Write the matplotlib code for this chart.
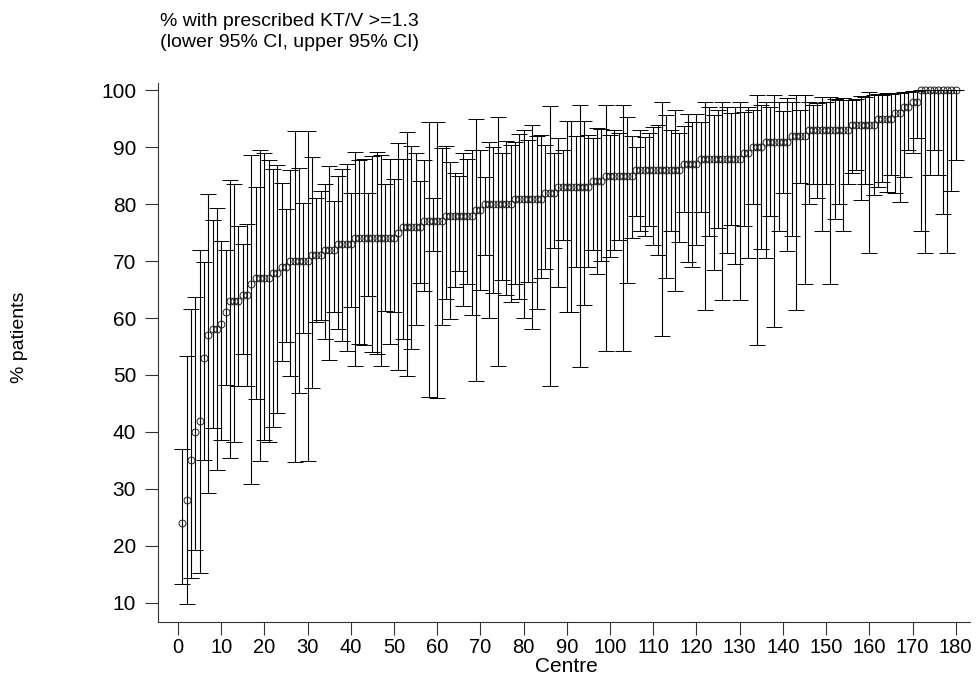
import numpy as np
import matplotlib
matplotlib.use("Agg")
import matplotlib.pyplot as plt

plt.rcParams['font.family'] = ['Liberation Sans', 'DejaVu Sans']

# centre number (x), % with prescribed KT/V >= 1.3 and its 95% CI
centre = list(range(1, 181))

pct = [
    24, 28, 35, 40, 42, 53, 57, 58, 58, 59,
    61, 63, 63, 63, 64, 64, 66, 67, 67, 67,
    67, 68, 68, 69, 69, 70, 70, 70, 70, 70,
    71, 71, 71, 72, 72, 72, 73, 73, 73, 73,
    74, 74, 74, 74, 74, 74, 74, 74, 74, 74,
    75, 76, 76, 76, 76, 76, 77, 77, 77, 77,
    77, 78, 78, 78, 78, 78, 78, 78, 79, 79,
    80, 80, 80, 80, 80, 80, 80, 81, 81, 81,
    81, 81, 81, 81, 82, 82, 82, 83, 83, 83,
    83, 83, 83, 83, 83, 84, 84, 84, 85, 85,
    85, 85, 85, 85, 85, 86, 86, 86, 86, 86,
    86, 86, 86, 86, 86, 86, 87, 87, 87, 87,
    88, 88, 88, 88, 88, 88, 88, 88, 88, 88,
    89, 89, 90, 90, 90, 91, 91, 91, 91, 91,
    91, 92, 92, 92, 92, 93, 93, 93, 93, 93,
    93, 93, 93, 93, 93, 94, 94, 94, 94, 94,
    94, 95, 95, 95, 95, 96, 96, 97, 97, 98,
    98, 100, 100, 100, 100, 100, 100, 100, 100, 100,
]

lower = [
    13.3, 9.8, 14.3, 19.2, 15.2, 35.0, 29.3, 40.7, 33.3, 38.6,
    48.3, 35.4, 38.3, 48.1, 53.6, 48.0, 30.9, 45.7, 34.8, 38.5,
    38.3, 40.9, 43.3, 52.5, 55.8, 49.9, 34.7, 46.9, 57.3, 34.8,
    47.8, 59.3, 59.6, 56.4, 52.6, 61.1, 58.0, 56.0, 54.3, 62.0,
    51.5, 55.4, 55.2, 63.8, 54.0, 53.6, 51.5, 61.2, 55.4, 61.0,
    50.8, 56.3, 49.9, 54.6, 58.7, 66.1, 64.7, 46.1, 71.7, 46.0,
    58.7, 63.4, 59.9, 65.5, 68.2, 62.2, 66.0, 60.6, 49.0, 64.9,
    71.1, 60.0, 64.4, 51.6, 66.7, 64.0, 62.8, 66.0, 63.4, 60.0,
    66.4, 58.0, 61.6, 67.0, 68.7, 48.0, 72.3, 65.5, 73.8, 61.0,
    61.0, 69.0, 51.4, 62.3, 68.9, 71.9, 67.8, 70.0, 54.3, 70.8,
    72.0, 73.8, 54.3, 66.1, 74.0, 77.9, 75.3, 74.5, 76.2, 72.9,
    71.0, 56.9, 67.0, 75.3, 64.7, 73.4, 78.6, 69.9, 69.0, 72.9,
    78.6, 61.4, 74.5, 68.5, 75.9, 63.2, 71.4, 76.3, 69.5, 63.2,
    76.1, 70.5, 80.0, 55.2, 72.2, 70.5, 78.0, 58.4, 75.3, 82.0,
    71.7, 74.4, 61.4, 83.8, 66.0, 80.1, 83.6, 81.1, 75.3, 83.5,
    66.0, 77.4, 80.1, 75.3, 83.6, 85.4, 86.0, 80.8, 83.6, 71.4,
    81.6, 83.0, 83.9, 82.2, 85.1, 82.0, 80.4, 84.7, 89.5, 89.0,
    91.7, 75.3, 71.5, 85.2, 89.6, 85.2, 78.2, 71.5, 82.3, 87.7,
]

upper = [
    37.0, 53.3, 61.6, 63.7, 71.9, 69.9, 81.8, 77.3, 79.4, 73.5,
    72.0, 84.3, 83.5, 76.2, 73.0, 76.5, 88.7, 83.1, 89.6, 89.0,
    87.7, 86.2, 86.9, 83.7, 79.1, 86.0, 92.8, 86.3, 80.3, 92.8,
    88.3, 81.1, 82.4, 83.6, 86.8, 80.5, 85.0, 86.2, 87.0, 82.0,
    89.2, 87.7, 88.0, 82.0, 88.4, 89.2, 88.6, 83.5, 88.0, 84.5,
    90.8, 88.0, 92.7, 90.2, 89.0, 84.0, 87.8, 94.5, 81.1, 94.5,
    89.9, 90.2, 87.5, 85.4, 85.0, 89.0, 88.0, 89.5, 95.0, 89.6,
    84.7, 91.0, 90.0, 95.3, 89.0, 91.1, 90.4, 91.0, 92.4, 93.1,
    91.2, 94.0, 92.0, 92.2, 90.4, 97.3, 89.0, 91.6, 89.5, 94.7,
    94.7, 92.0, 97.4, 94.7, 92.1, 91.6, 93.4, 93.3, 97.5, 92.2,
    93.0, 92.5, 97.5, 95.3, 92.0, 90.1, 93.0, 91.8, 92.5, 93.6,
    94.0, 97.9, 95.6, 93.1, 96.6, 92.5, 93.7, 95.9, 94.5, 95.9,
    94.5, 98.0, 97.1, 95.6, 96.5, 98.0, 97.0, 96.0, 97.1, 98.0,
    96.2, 97.0, 96.5, 99.2, 97.4, 98.0, 97.0, 99.2, 98.0, 96.3,
    98.7, 98.0, 99.2, 96.5, 99.2, 97.9, 97.5, 97.8, 98.9, 98.0,
    98.9, 98.5, 98.3, 98.6, 98.3, 98.3, 98.5, 99.0, 98.8, 99.8,
    99.2, 99.3, 99.2, 99.5, 99.4, 99.6, 99.6, 99.7, 99.8, 99.9,
    99.9, 100, 100, 100, 100, 100, 100, 100, 100, 100,
]

x = np.array(centre)
y = np.array(pct, dtype=float)
err = [y - np.array(lower), np.array(upper) - y]

W, H = 977, 679
fig = plt.figure(figsize=(W / 100, H / 100), dpi=100)
# plot region in pixels: left 158, right 970, top 83, bottom 622
ax = fig.add_axes([158 / W, (H - 622) / H, (970 - 158) / W, (622 - 83) / H])

ax.errorbar(x, y, yerr=err, fmt='o', ms=5, mfc='none', mec='#222222', mew=0.7,
            ecolor='black', elinewidth=0.8, capsize=5.8, capthick=0.8)

ax.set_xlim(-4.63, 183.3)
ax.set_ylim(6.6, 101.3)
ax.set_xticks(np.arange(0, 181, 10))
ax.set_yticks(np.arange(10, 101, 10))
ax.tick_params(axis='both', direction='out', length=9.3, width=0.8,
               color='#333333')
ax.tick_params(axis='y', labelsize=15, pad=6.5)
ax.tick_params(axis='x', labelsize=14.5, pad=2)
for side in ['top', 'right']:
    ax.spines[side].set_visible(False)
for side in ['left', 'bottom']:
    ax.spines[side].set_linewidth(0.8)
    ax.spines[side].set_color('#333333')

fig.text(566 / W, 1 - 667 / H, 'Centre', fontsize=15, ha='center', va='center')
fig.text(20 / W, 1 - 337 / H, '% patients', rotation=90, fontsize=14,
         ha='center', va='center')

fig.text(160 / W, 1 - 26 / H, '% with prescribed KT/V >=1.3', fontsize=14,
         ha='left', va='baseline')
fig.text(160 / W, 1 - 47 / H, '(lower 95% CI, upper 95% CI)', fontsize=14,
         ha='left', va='baseline')

fig.savefig('out.png', dpi=100)
